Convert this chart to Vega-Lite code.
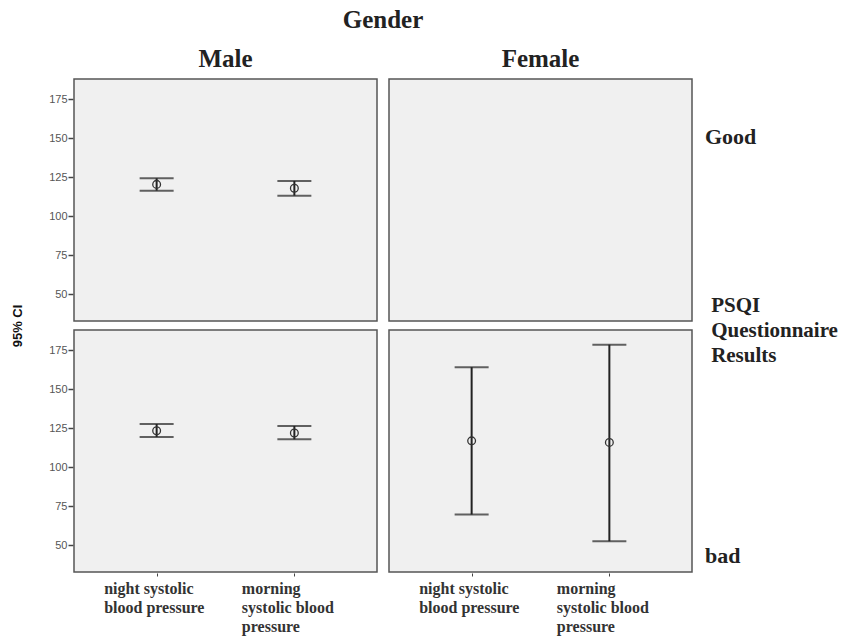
{
  "$schema": "https://vega.github.io/schema/vega-lite/v6.json",
  "padding": {"left": 12, "top": 8, "right": 0, "bottom": 5},
  "background": "white",
  "title": {"text": ["PSQI", "Questionnaire", "Results"], "orient": "right", "anchor": "middle", "angle": 0, "align": "left", "baseline": "middle", "font": "Liberation Serif", "fontSize": 21, "fontWeight": "bold", "color": "#222", "lineHeight": 25, "offset": -172, "dy": -15},
  "data": {"values": [
    {"gender": "Male", "psqi": "Good", "measure": "night", "mean": 120.5, "lower": 116.5, "upper": 124.4},
    {"gender": "Male", "psqi": "Good", "measure": "morning", "mean": 118, "lower": 113.3, "upper": 122.7},
    {"gender": "Female", "psqi": "Good", "measure": "night", "mean": null, "lower": null, "upper": null},
    {"gender": "Male", "psqi": "bad", "measure": "night", "mean": 123.5, "lower": 119.5, "upper": 127.8},
    {"gender": "Male", "psqi": "bad", "measure": "morning", "mean": 122, "lower": 118, "upper": 126.5},
    {"gender": "Female", "psqi": "bad", "measure": "night", "mean": 117, "lower": 69.8, "upper": 164.2},
    {"gender": "Female", "psqi": "bad", "measure": "morning", "mean": 116, "lower": 52.7, "upper": 178.6}
  ]},
  "facet": {
    "column": {
      "field": "gender", "type": "nominal", "sort": ["Male", "Female"], "title": "Gender",
      "header": {
        "titleFont": "Liberation Serif", "titleFontSize": 25, "titleFontWeight": "bold", "titleColor": "#222",
        "labelFont": "Liberation Serif", "labelFontSize": 25, "labelFontWeight": "bold", "labelColor": "#222",
        "labelPadding": 6, "titlePadding": 4
      }
    },
    "row": {
      "field": "psqi", "type": "nominal", "sort": ["Good", "bad"], "title": "95% CI",
      "header": {
        "labelOrient": "right", "titleOrient": "left",
        "labelAngle": 0,
        "labelAnchor": "start", "labelBaseline": "top", "labelAlign": "right",
        "labelExpr": "datum.value == 'Good' ? ['\u2800', '\u2800', 'Good'] : ['\u2800', '\u2800', '\u2800', '\u2800', '\u2800', '\u2800', '\u2800', '\u2800', '\u2800', 'bad']",
        "labelLineHeight": 24,
        "labelFont": "Liberation Serif", "labelFontSize": 22, "labelFontWeight": "bold", "labelColor": "#222",
        "titleFont": "Liberation Sans", "titleFontSize": 13, "titleFontWeight": "bold", "titleColor": "#111",
        "labelPadding": 12, "titlePadding": 13
      }
    }
  },
  "spacing": {"column": 10, "row": 7},
  "spec": {
    "width": 303,
    "height": 242,
    "encoding": {
      "x": {
        "field": "measure", "type": "nominal", "sort": ["night", "morning"],
        "scale": {"type": "point", "padding": 0.6},
        "axis": {
          "title": null, "domain": false, "grid": false, "ticks": true, "tickSize": 3, "tickColor": "#444",
          "labelExpr": "datum.value == 'night' ? ['night systolic', 'blood pressure'] : ['morning', 'systolic blood', 'pressure']",
          "labelFont": "Liberation Serif", "labelFontSize": 16, "labelFontWeight": "bold", "labelColor": "#333",
          "labelAngle": 0, "labelAlign": "left", "labelOffset": -53, "labelBaseline": "top",
          "labelPadding": 4, "labelLineHeight": 19
        }
      }
    },
    "layer": [
      {
        "mark": {"type": "rule", "strokeWidth": 2, "color": "#222"},
        "encoding": {
          "y": {
            "field": "lower", "type": "quantitative", "title": null,
            "scale": {"domain": [33, 188], "nice": false, "zero": false},
            "axis": {
              "title": null,
              "values": [50, 75, 100, 125, 150, 175], "grid": false, "domain": false,
              "tickSize": 5, "tickColor": "#444", "tickWidth": 1.5,
              "labelFont": "Liberation Sans", "labelFontSize": 11, "labelColor": "#555", "labelPadding": 1
            }
          },
          "y2": {"field": "upper"}
        }
      },
      {
        "mark": {"type": "tick", "orient": "horizontal", "size": 34, "thickness": 2, "color": "#222"},
        "encoding": {"y": {"field": "lower", "type": "quantitative", "title": null}}
      },
      {
        "mark": {"type": "tick", "orient": "horizontal", "size": 34, "thickness": 2, "color": "#222"},
        "encoding": {"y": {"field": "upper", "type": "quantitative", "title": null}}
      },
      {
        "mark": {"type": "point", "shape": "circle", "size": 60, "filled": false, "stroke": "#333", "strokeWidth": 1.3, "opacity": 1},
        "encoding": {"y": {"field": "mean", "type": "quantitative", "title": null}}
      }
    ]
  },
  "config": {
    "view": {"fill": "#f0f0f0", "stroke": "#555", "strokeWidth": 1.5}
  }
}
